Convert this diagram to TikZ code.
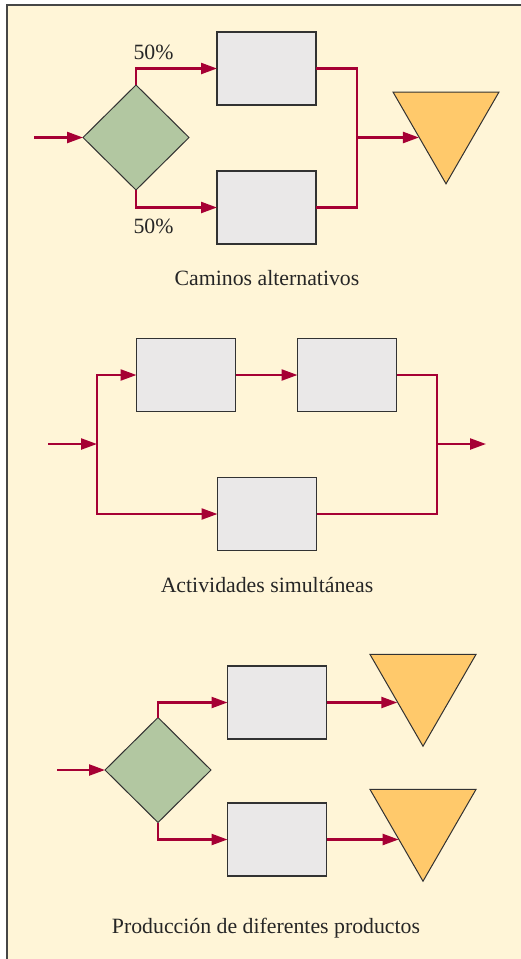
\documentclass[tikz,border=0pt]{standalone}
\usepackage{fontspec}
\setmainfont{Liberation Serif}
\usetikzlibrary{arrows.meta,shapes.geometric}
\definecolor{bgcream}{RGB}{255,245,215}
\definecolor{flowred}{RGB}{166,0,52}
\definecolor{boxgray}{RGB}{234,232,232}
\definecolor{dgreen}{RGB}{178,199,161}
\definecolor{torange}{RGB}{255,201,107}
\definecolor{edgegray}{RGB}{50,50,50}
\tikzset{
  flow/.style={draw=flowred,line width=2.3pt},
  arr/.style={flow,-{Triangle[length=16pt,width=11pt]}},
  actbox/.style={draw=edgegray,line width=1.3pt,fill=boxgray,minimum width=99pt,minimum height=73pt,inner sep=0pt,outer sep=0pt},
  decis/.style={diamond,draw=edgegray,line width=1pt,fill=dgreen,minimum width=106pt,minimum height=105pt,inner sep=0pt,outer sep=0pt},
  store/.style={regular polygon,regular polygon sides=3,shape border rotate=180,draw=edgegray,line width=1pt,fill=torange,minimum size=122.4pt,inner sep=0pt,outer sep=0pt},
  lbl/.style={font=\fontsize{21.8}{24}\selectfont,text=black!85,inner sep=0pt}
}
\begin{document}
\begin{tikzpicture}[x=1pt,y=-1pt]
\useasboundingbox (0,0) rectangle (521,959);
\fill[bgcream] (7,5) rectangle (521,959);
\draw[edgegray!90,line width=2pt] (7,959) -- (7,5) -- (521,5);

% Section 1: Caminos alternativos
\node[decis] (D1) at (136,137.5) {};
\node[actbox] (B1) at (266.5,68.5) {};
\node[actbox] (B2) at (266.5,207.5) {};
\node[store] (T1) at (446,122.6) {};
\coordinate (in1) at (34,137.5);
\coordinate (m1) at (357,137.5);
\draw[arr] (in1) -- (D1.west);
\draw[arr] (D1.north) |- (B1.west);
\draw[arr] (D1.south) |- (B2.west);
\draw[flow] (B1.east) -| (m1);
\draw[flow] (B2.east) -| (m1);
\draw[arr] (m1) -- (T1.208 |- m1);
\node[lbl] (p1) at (153.5,52) {50\%};
\node[lbl] (p2) at (153.5,226) {50\%};
\node[lbl] (c1) at (267,278) {Caminos alternativos};

% Section 2: Actividades simultaneas
\node[actbox] (BA) at (186,375) {};
\node[actbox] (BB) at (347,375) {};
\node[actbox] (BC) at (267,514) {};
\coordinate (in2) at (48,444);
\coordinate (s2) at (97,444);
\coordinate (m2) at (437,444);
\coordinate (o2) at (486,444);
\draw[arr] (in2) -- (s2);
\draw[arr] (s2) |- (BA.west);
\draw[arr] (s2) |- (BC.west);
\draw[arr] (BA) -- (BB);
\draw[flow] (BB.east) -| (m2);
\draw[flow] (BC.east) -| (m2);
\draw[arr] (m2) -- (o2);
\node[lbl] (c2) at (267,585) {Actividades simultáneas};

% Section 3: Produccion de diferentes productos
\node[decis] (D3) at (158,770) {};
\node[actbox] (BD) at (277,702.5) {};
\node[actbox] (BE) at (277,839.5) {};
\node[store] (T3) at (423,685) {};
\node[store] (T4) at (423,820) {};
\coordinate (in3) at (57,770);
\draw[arr] (in3) -- (D3.west);
\draw[arr] (D3.north) |- (BD.west);
\draw[arr] (D3.south) |- (BE.west);
\draw[arr] (BD.east) -- (T3.213 |- BD.east);
\draw[arr] (BE.east) -- (T4.218 |- BE.east);
\node[lbl] (c3) at (266,928) {Producción de diferentes productos};
\end{tikzpicture}
\end{document}
